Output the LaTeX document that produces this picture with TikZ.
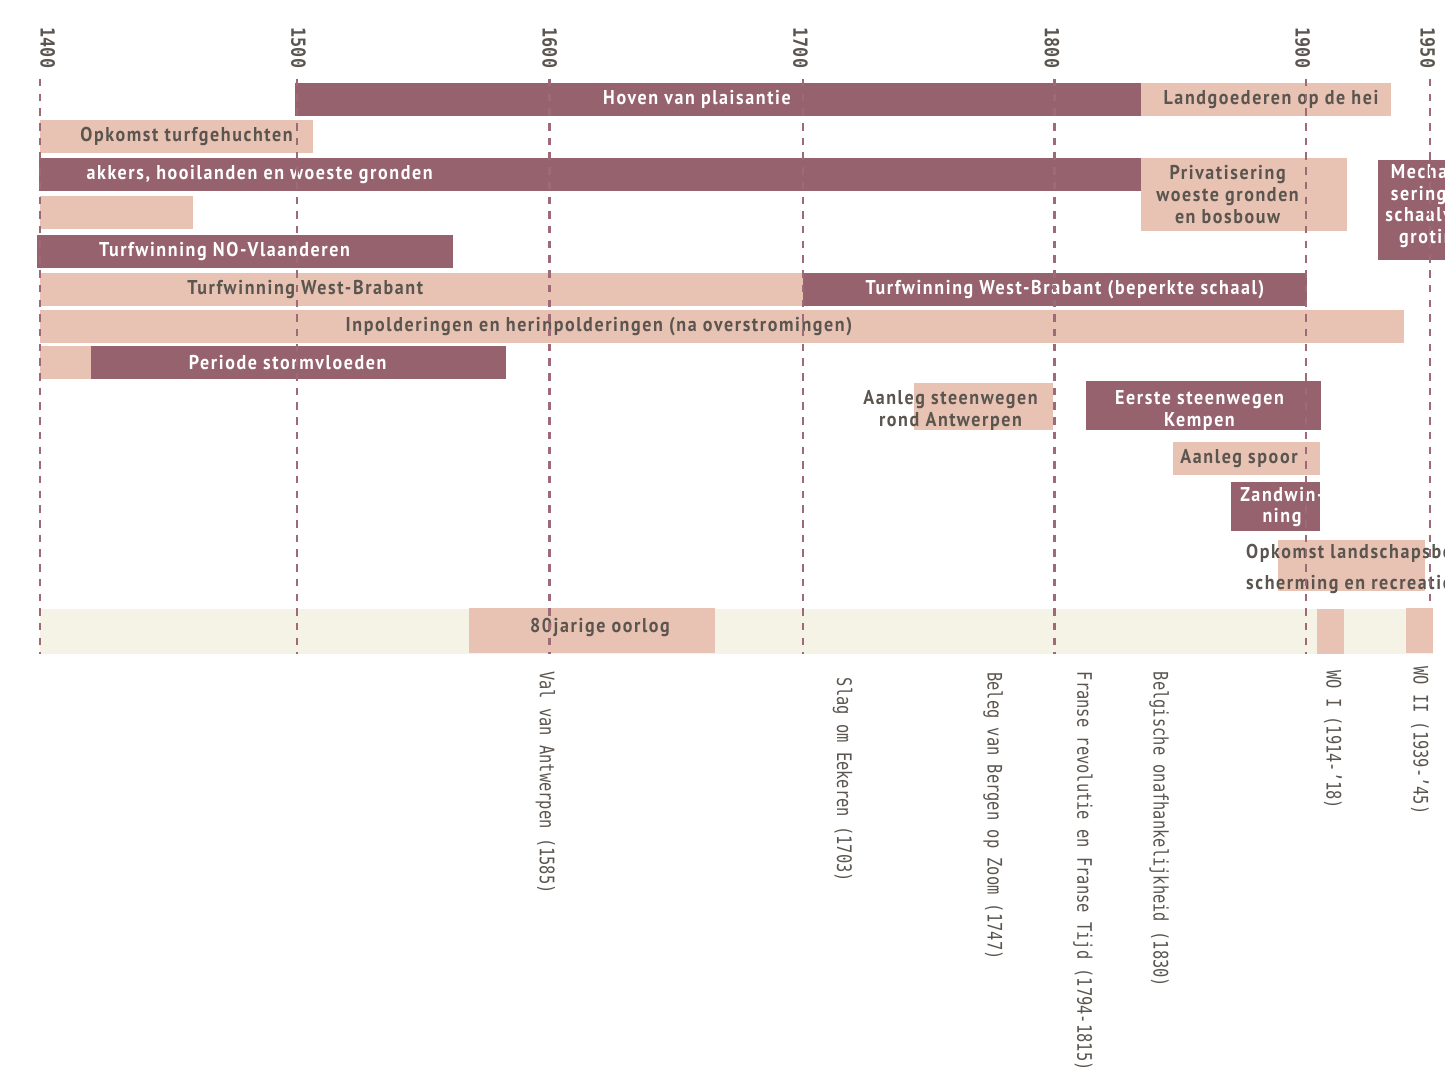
\documentclass[tikz,border=0pt]{standalone}
\usepackage{fontspec}
\newfontfamily\balkfont{PT Sans}[FakeStretch=0.9,LetterSpace=8]
\newfontfamily\monofont{DejaVu Sans Mono}[FakeStretch=0.77]
\newfontfamily\jaarfont{DejaVu Sans Mono}[FakeStretch=0.86]
\usepackage{tikz}

\definecolor{bordeaux}{HTML}{96626E}
\definecolor{zalm}{HTML}{E8C2B3}
\definecolor{creme}{HTML}{F5F2E6}
\definecolor{grijs}{HTML}{5A554F}
\definecolor{stippel}{HTML}{9E6A78}

\tikzset{
  donker/.style      = {fill=bordeaux},
  licht/.style       = {fill=zalm},
  opdonker/.style    = {font=\balkfont\bfseries\fontsize{20}{21.7}\selectfont, text=white, align=center, inner sep=0pt},
  oplicht/.style     = {opdonker, text=grijs},
  jaartal/.style     = {font=\jaarfont\bfseries\fontsize{19.5}{19.5}\selectfont, text=grijs, rotate=-90, inner sep=0pt},
  gebeurtenis/.style = {font=\monofont\fontsize{20}{20}\selectfont, text=grijs, rotate=-90, anchor=west, inner sep=0pt},
  raster/.style      = {stippel, line width=2.4pt, dash pattern=on 7.5pt off 7.2pt},
}

\begin{document}
\begin{tikzpicture}[x=1pt, y=-1pt]
      \useasboundingbox (0,0) rectangle (1445,1067);
      \fill[creme] (40,608.7) rectangle (1433,654.3);
      \foreach \van/\tot/\boven/\onder/\stijl in {
          295/1141/83/116/donker, 1141/1391/83/116/licht,
          40/313/120/153/licht,
          39/1141/158/191/donker, 1141/1347/158/231/licht, 1378/1450/160/260/donker,
          40/193/196/229/licht,
          37/452.7/235/268/donker,
          40/802.5/273.3/306/licht, 802.5/1307/273.3/306/donker,
          40/1404.3/310/343/licht,
          40/91/346/379/licht, 91/506.4/346/379/donker,
          914/1053.3/383/430/licht, 1086/1321/381/430/donker,
          1173/1320/442/475/licht,
          1231/1320/482/531/donker,
          1278/1425/540/591/licht,
          469/715/608.3/653.3/licht, 1317/1344/608.7/654.3/licht, 1406/1433/607.7/653.3/licht} {
        \fill[\stijl] (\van,\boven) rectangle (\tot,\onder);
      }
      \foreach \x/\y/\naam/\stijl/\tekst in {
          697/99.5/hoven/opdonker/{Hoven van plaisantie},
          1271/99.5/landgoed/oplicht/{Landgoederen op de hei},
          186.6/136.4/turfgeh/oplicht/{Opkomst turfgehuchten},
          259.6/174.5/akkers/opdonker/{akkers, hooilanden en woeste gronden},
          1227.6/194.5/privat/oplicht/{Privatisering\\woeste gronden\\en bosbouw},
          1432/206/mechan/opdonker/{Mechani-\\sering en\\schaalver-\\groting},
          224.5/251.5/novla/opdonker/{Turfwinning NO-Vlaanderen},
          305.3/289.5/wbrab/oplicht/{Turfwinning West-Brabant},
          1065/289.5/wbrabklein/opdonker/{Turfwinning West-Brabant (beperkte schaal)},
          599/326.5/polder/oplicht/{Inpolderingen en herinpolderingen (na overstromingen)},
          287.7/362.5/storm/opdonker/{Periode stormvloeden},
          950.5/410.5/steenantw/oplicht/{Aanleg steenwegen\\rond Antwerpen},
          1199.5/410.5/steenkemp/opdonker/{Eerste steenwegen\\Kempen},
          1239/458.5/spoor/oplicht/{Aanleg spoor},
          1282/507/zand/opdonker/{Zandwin-\\ning},
          600/627/oorlog80/oplicht/{80jarige oorlog}} {
        \node[\stijl] (\naam) at (\x,\y) {\tekst};
      }
      \node[oplicht, align=left, anchor=west] (landschap) at (1246,569) {Opkomst landschapsbe-\\[9pt]scherming en recreatie};
      \foreach \x/\y/\naam/\tekst in {
          545.5/671/val/{Val van Antwerpen (1585)},
          842.6/677.7/slag/{Slag om Eekeren (1703)},
          993/672/beleg/{Beleg van Bergen op Zoom (1747)},
          1083/671.7/franse/{Franse revolutie en Franse Tijd (1794-1815)},
          1159/671.7/belgie/{Belgische onafhankelijkheid (1830)},
          1333/670/woI/{WO I (1914-’18)},
          1420/666/woII/{WO II (1939-’45)}} {
        \node[gebeurtenis] (\naam) at (\x,\y) {\tekst};
      }
      \foreach \jaar/\x/\lx/\eind in {1400/40/47.6/654, 1500/297/298.4/654, 1600/549.5/549.8/654,
          1700/802.8/800.5/654, 1800/1054.3/1052/654, 1900/1305.8/1302.6/654, 1950/1430/1427.6/602} {
        \node[jaartal] (j\jaar) at (\lx,48) {\jaar};
        \draw[raster] (\x,79) -- (\x,\eind);
      }
\end{tikzpicture}
\end{document}
